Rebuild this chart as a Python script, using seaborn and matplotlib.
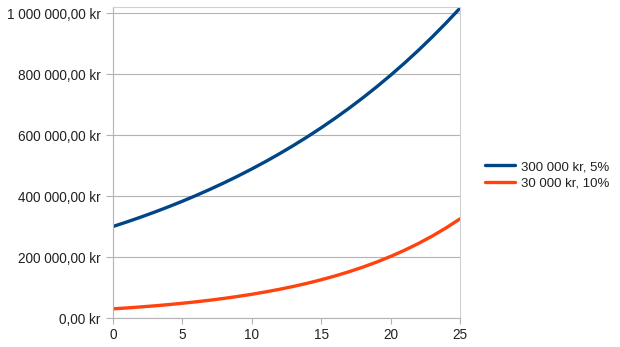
import matplotlib
matplotlib.use("Agg")
import matplotlib.pyplot as plt
import seaborn as sns
import pandas as pd
from matplotlib.ticker import FuncFormatter, MultipleLocator

years = list(range(26))
series_a_name = "300 000 kr, 5%"
series_b_name = "30 000 kr, 10%"
series_a = [300000, 315000, 330750, 347288, 364652, 382884, 402029, 422130, 443237, 465398,
            488668, 513102, 538757, 565695, 593979, 623678, 654862, 687606, 721986, 758085,
            795989, 835789, 877578, 921457, 967530, 1015906]
series_b = [30000, 33000, 36300, 39930, 43923, 48315, 53147, 58462, 64308, 70738,
            77812, 85594, 94153, 103568, 113925, 125317, 137849, 151634, 166798, 183477,
            201825, 222007, 244208, 268629, 295492, 325041]

df = pd.DataFrame({
    "year": years * 2,
    "value": series_a + series_b,
    "series": [series_a_name] * len(years) + [series_b_name] * len(years),
})

sns.set_theme(style="white")
plt.rcParams["font.family"] = ["Liberation Sans", "DejaVu Sans"]

fig = plt.figure(figsize=(6.2, 3.47), dpi=100)
ax = fig.add_axes([113 / 620, 1 - 318 / 347, (460 - 113) / 620, (318 - 7) / 347])

sns.lineplot(data=df, x="year", y="value", hue="series",
             palette={series_a_name: "#004586", series_b_name: "#ff420e"},
             linewidth=2.4, ax=ax, legend=True)

ax.set_xlim(0, 25)
ax.set_ylim(0, 1019700)
ax.xaxis.set_major_locator(MultipleLocator(5))
ax.yaxis.set_major_locator(MultipleLocator(200000))

def fmt(v, pos):
    s = f"{v:,.2f}".replace(",", " ").replace(".", ",")
    return s + " kr"

ax.yaxis.set_major_formatter(FuncFormatter(fmt))
ax.grid(axis="y", color="#b3b3b3", linewidth=0.8)
ax.grid(axis="x", visible=False)
for side in ["left", "bottom", "top", "right"]:
    ax.spines[side].set_color("#b3b3b3")
    ax.spines[side].set_linewidth(0.8)
ax.spines["top"].set_color("#d0d0d0")
ax.spines["right"].set_color("#d0d0d0")
ax.tick_params(axis="both", which="major", length=4, width=0.8, color="#b3b3b3",
               labelsize=9.8, labelcolor="#222222", direction="out")
ax.tick_params(axis="x", bottom=True, pad=3)
ax.tick_params(axis="y", left=True, length=5, pad=4)
ax.set_xlabel("")
ax.set_ylabel("")

leg = ax.legend(loc="center left", bbox_to_anchor=(473 / 620, 1 - 175 / 347),
                bbox_transform=fig.transFigure, frameon=False, fontsize=9.5,
                handlelength=2.3, handletextpad=0.45, labelspacing=0.3)
for t in leg.get_texts():
    t.set_color("#222222")

fig.savefig("out.png", dpi=100)
